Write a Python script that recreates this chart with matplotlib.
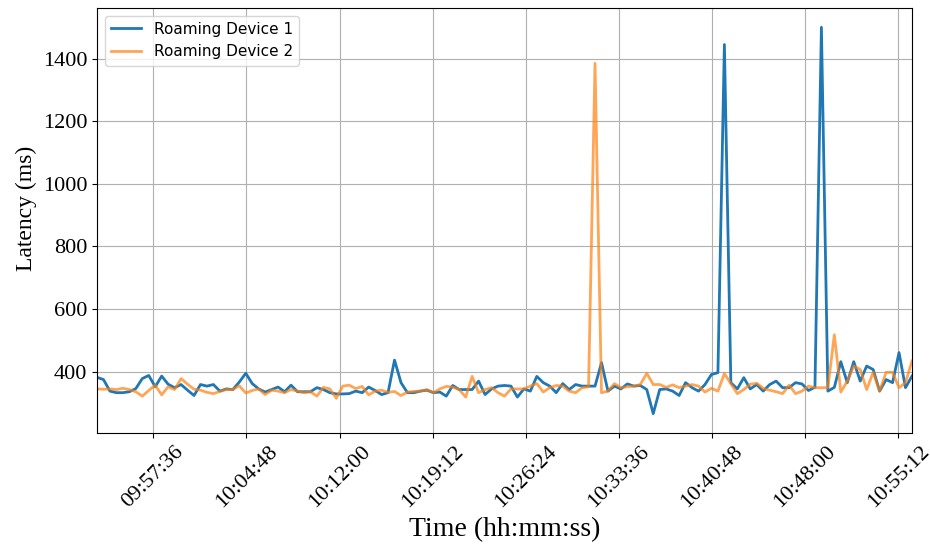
import matplotlib
matplotlib.use("Agg")
import matplotlib.pyplot as plt
import matplotlib.dates as mdates
from matplotlib.ticker import FixedLocator
from datetime import datetime, timedelta

start_time = "09:53:15"
step_seconds = 30

device1 = [382, 375, 338, 333, 333, 336, 346, 378, 388, 352, 386, 360, 349, 359, 341, 324, 359, 354, 359, 338, 345, 343, 367, 395,
           362, 345, 335, 343, 351, 336, 357, 336, 336, 336, 349, 343, 333, 329, 329, 330, 338, 333, 351, 340, 327, 333, 437, 365, 333, 333, 338,
           341, 333, 335, 322, 356, 343, 343, 343, 370, 327, 345, 354, 356, 354, 319, 345, 338, 385, 365, 354, 333, 362, 343, 359, 354,
           354, 354, 429, 338, 354, 345, 361, 354, 356, 343, 266, 343, 345, 338, 324, 365, 349, 338, 359, 391, 397, 1445, 365, 345, 381,
           345, 359, 338, 359, 370, 349, 349, 365, 361, 340, 350, 1500, 338, 350, 432, 365, 432, 370, 418, 407, 338, 375, 365, 461, 349, 386]

device2 = [345, 344, 345, 343, 347, 343, 336, 322, 340, 357, 326, 352, 343, 378, 360, 344, 341, 334, 330, 337, 343, 343, 355, 332,
           340, 345, 327, 341, 338, 333, 343, 338, 333, 336, 322, 350, 345, 315, 354, 357, 346, 353, 326, 338, 341, 334, 337, 324, 335, 337, 338,
           343, 333, 345, 353, 351, 343, 319, 385, 333, 343, 349, 333, 322, 345, 345, 345, 354, 362, 335, 349, 356, 354, 338, 333, 349,
           352, 1385, 333, 338, 362, 349, 352, 354, 359, 395, 359, 359, 350, 358, 349, 354, 359, 354, 335, 347, 338, 394, 362, 330, 343,
           360, 363, 347, 341, 336, 330, 357, 330, 338, 354, 349, 349, 349, 518, 335, 370, 418, 407, 343, 398, 338, 398, 398, 349, 365, 434]

tick_labels = ["09:57:36", "10:04:48", "10:12:00", "10:19:12", "10:26:24",
               "10:33:36", "10:40:48", "10:48:00", "10:55:12"]

day = "2024-01-01 "
t0 = datetime.strptime(day + start_time, "%Y-%m-%d %H:%M:%S")
times = [t0 + timedelta(seconds=step_seconds * i) for i in range(len(device1))]
tick_times = [datetime.strptime(day + s, "%Y-%m-%d %H:%M:%S") for s in tick_labels]

fig = plt.figure(figsize=(9.3, 5.48), dpi=100)
ax = fig.add_axes([0.1043, 0.2099, 0.8763, 0.7755])

ax.plot(times, device1, color="#1f77b4", linewidth=2, label="Roaming Device 1")
ax.plot(times, device2, color="#ff7f0e", linewidth=2, alpha=0.7, label="Roaming Device 2")

ax.set_xlim(times[0], times[-1])
ax.xaxis.set_major_locator(FixedLocator(mdates.date2num(tick_times)))
ax.xaxis.set_major_formatter(mdates.DateFormatter("%H:%M:%S"))

serif = ["Liberation Serif", "DejaVu Serif"]
ax.tick_params(axis="both", labelsize=16)
ax.tick_params(axis="x", labelrotation=45)
for lbl in ax.get_xticklabels() + ax.get_yticklabels():
    lbl.set_fontfamily(serif)

ax.set_xlabel("Time (hh:mm:ss)", fontsize=20, family=serif)
ax.set_ylabel("Latency (ms)", fontsize=17, family=serif, y=0.528)
ax.grid(True, color="#b0b0b0", linewidth=0.8)
ax.legend(loc="upper left", fontsize=11)

fig.savefig("out.png", dpi=100)
